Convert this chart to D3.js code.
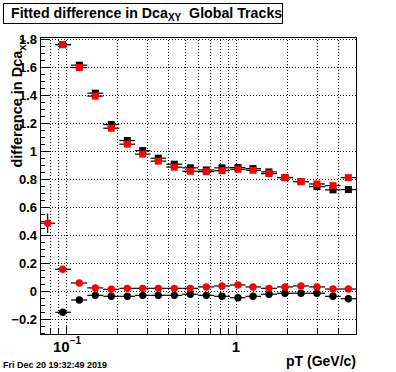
<!DOCTYPE html>
<html>
<head>
<meta charset="utf-8">
<script src="https://cdn.jsdelivr.net/npm/d3@7.9.0/dist/d3.min.js"></script>
<style>
  html, body { margin: 0; padding: 0; background: #fff; }
  svg { display: block; }
  text { font-family: "Liberation Sans", Arial, Helvetica, sans-serif; font-weight: bold; }
</style>
</head>
<body>
<svg id="chart" width="396" height="372"></svg>
<script>
// --- data ---
const binEdges = [0.0703, 0.0864, 0.107, 0.1334, 0.1657, 0.2058, 0.2546, 0.3142, 0.389, 0.483,
  0.600, 0.7444, 0.922, 1.137, 1.403, 1.742, 2.163, 2.687, 3.34, 4.13, 5.08];
const ptCenters = [0.078, 0.0956, 0.1197, 0.1487, 0.1847, 0.2294, 0.2826, 0.349, 0.4336, 0.5384,
  0.6687, 0.8273, 1.0275, 1.259, 1.563, 1.941, 2.41, 2.992, 3.72, 4.58];

const blackSquare = [null, 1.76, 1.614, 1.414, 1.19, 1.076, 1.004, 0.95, 0.907, 0.881,
  0.866, 0.881, 0.883, 0.876, 0.852, 0.812, 0.783, 0.747, 0.724, 0.726];
const redSquare = [null, 1.761, 1.597, 1.393, 1.164, 1.05, 0.979, 0.929, 0.886, 0.857,
  0.854, 0.861, 0.871, 0.864, 0.84, 0.811, 0.783, 0.766, 0.754, 0.811];
const blackCircle = [null, -0.15, -0.062, -0.029, -0.036, -0.036, -0.029, -0.029, -0.029, -0.021,
  -0.029, -0.036, -0.046, -0.036, -0.021, -0.014, -0.014, -0.014, -0.036, -0.053];
const redCircle = [0.486, 0.157, 0.059, 0.024, 0.014, 0.021, 0.021, 0.021, 0.021, 0.021,
  0.031, 0.038, 0.045, 0.031, 0.021, 0.031, 0.038, 0.031, 0.016, 0.016];
const redCircleErr = [0.07, 0.015, 0.01, 0.008, 0.008, 0.008, 0.008, 0.008, 0.008, 0.008,
  0.008, 0.008, 0.008, 0.008, 0.008, 0.008, 0.008, 0.008, 0.008, 0.008];

const yTicks = [-0.2, 0, 0.2, 0.4, 0.6, 0.8, 1, 1.2, 1.4, 1.6, 1.8];
const xGrid = [0.08, 0.09, 0.1, 0.2, 0.3, 0.4, 0.5, 0.6, 0.7, 0.8, 0.9, 1, 2, 3, 4];
const xMajor = [0.1, 1];

const titleText = "Fitted difference in Dca";
const dateText = "Fri Dec 20 19:32:49 2019";

// --- layout ---
const svg = d3.select("#chart");
const frame = { left: 40, right: 356, top: 37, bottom: 334 };

const x = d3.scaleLog().domain([binEdges[0], binEdges[binEdges.length - 1]]).range([frame.left, frame.right]);
const y = d3.scaleLinear().domain([-0.305, 1.815]).range([frame.bottom, frame.top]);

// grid
const grid = svg.append("g").attr("stroke", "#000").attr("stroke-width", 1).attr("stroke-dasharray", "1,2");
grid.selectAll(".gx").data(xGrid).join("line")
  .attr("x1", d => Math.round(x(d)) + 0.5).attr("x2", d => Math.round(x(d)) + 0.5)
  .attr("y1", frame.top).attr("y2", frame.bottom);
grid.selectAll(".gy").data(yTicks).join("line")
  .attr("y1", d => Math.round(y(d)) + 0.5).attr("y2", d => Math.round(y(d)) + 0.5)
  .attr("x1", frame.left).attr("x2", frame.right);

// y ticks (inside frame)
const yMinor = d3.range(-0.3, 1.8001, 0.05).map(v => +v.toFixed(2));
const axes = svg.append("g").attr("stroke", "#000").attr("stroke-width", 1);
axes.selectAll(".ty").data(yMinor).join("line")
  .attr("x1", frame.left)
  .attr("x2", d => frame.left + (yTicks.includes(d) ? 9 : 5))
  .attr("y1", d => Math.round(y(d)) + 0.5).attr("y2", d => Math.round(y(d)) + 0.5);

// x ticks (inside frame)
axes.selectAll(".tx").data(xGrid).join("line")
  .attr("x1", d => Math.round(x(d)) + 0.5).attr("x2", d => Math.round(x(d)) + 0.5)
  .attr("y1", frame.bottom)
  .attr("y2", d => frame.bottom - (xMajor.includes(d) ? 9 : 5));

// frame
svg.append("rect")
  .attr("x", frame.left + 0.5).attr("y", frame.top + 0.5)
  .attr("width", frame.right - frame.left).attr("height", frame.bottom - frame.top)
  .attr("fill", "none").attr("stroke", "#000");

// y tick labels
svg.append("g").selectAll("text").data(yTicks).join("text")
  .attr("x", 37).attr("y", d => y(d) + 4.5)
  .attr("text-anchor", "end").attr("font-size", 13)
  .text(d => d < 0 ? "\u2212" + Math.abs(d) : d);

// x tick labels
const lab01 = svg.append("text").attr("x", x(0.1) - 13).attr("y", 352).attr("font-size", 15);
lab01.append("tspan").text("10");
lab01.append("tspan").attr("dy", -8).attr("font-size", 10).text("\u22121");
svg.append("text").attr("x", x(1)).attr("y", 352).attr("text-anchor", "middle").attr("font-size", 15).text("1");

// axis titles
svg.append("text").attr("x", frame.right).attr("y", 366).attr("text-anchor", "end")
  .attr("font-size", 14).text("pT (GeV/c)");
const ylab = svg.append("text").attr("transform", `translate(22,${frame.top + 1}) rotate(-90)`)
  .attr("text-anchor", "end").attr("font-size", 14.5);
ylab.append("tspan").text("difference in Dca");
ylab.append("tspan").attr("dy", 4).attr("font-size", 9.5).text("XY");

// title box
svg.append("rect").attr("x", 3.5).attr("y", 3.5).attr("width", 279).attr("height", 20)
  .attr("fill", "#fff").attr("stroke", "#000");
const title = svg.append("text").attr("x", 11).attr("y", 18).attr("font-size", 14.2);
title.append("tspan").text(titleText);
title.append("tspan").attr("dy", 2.5).attr("font-size", 10).text("XY");
title.append("tspan").attr("dy", -2.5).text("\u00a0 Global Tracks");

// date
svg.append("text").attr("x", 3).attr("y", 368).attr("font-size", 9).text(dateText);

// --- series ---
function drawSeries(values, errs, color, shape) {
  const pts = values.map((v, i) => ({ v, i, e: errs ? errs[i] : 0.005 })).filter(d => d.v !== null);
  const g = svg.append("g");
  g.selectAll(".eh").data(pts).join("line")
    .attr("x1", d => x(binEdges[d.i])).attr("x2", d => x(binEdges[d.i + 1]))
    .attr("y1", d => y(d.v)).attr("y2", d => y(d.v))
    .attr("stroke", "#000").attr("stroke-width", 1.2);
  g.selectAll(".ev").data(pts).join("line")
    .attr("x1", d => x(ptCenters[d.i])).attr("x2", d => x(ptCenters[d.i]))
    .attr("y1", d => y(d.v - d.e)).attr("y2", d => y(d.v + d.e))
    .attr("stroke", "#000").attr("stroke-width", 1.2);
  if (shape === "square") {
    g.selectAll(".m").data(pts).join("rect")
      .attr("x", d => x(ptCenters[d.i]) - 3.5).attr("y", d => y(d.v) - 3.5)
      .attr("width", 7).attr("height", 7).attr("fill", color);
  } else {
    g.selectAll(".m").data(pts).join("circle")
      .attr("cx", d => x(ptCenters[d.i])).attr("cy", d => y(d.v))
      .attr("r", 3.7).attr("fill", color);
  }
}

drawSeries(blackSquare, null, "#000", "square");
drawSeries(redSquare, null, "#f00", "square");
drawSeries(blackCircle, null, "#000", "circle");
drawSeries(redCircle, redCircleErr, "#f00", "circle");
</script>
</body>
</html>
